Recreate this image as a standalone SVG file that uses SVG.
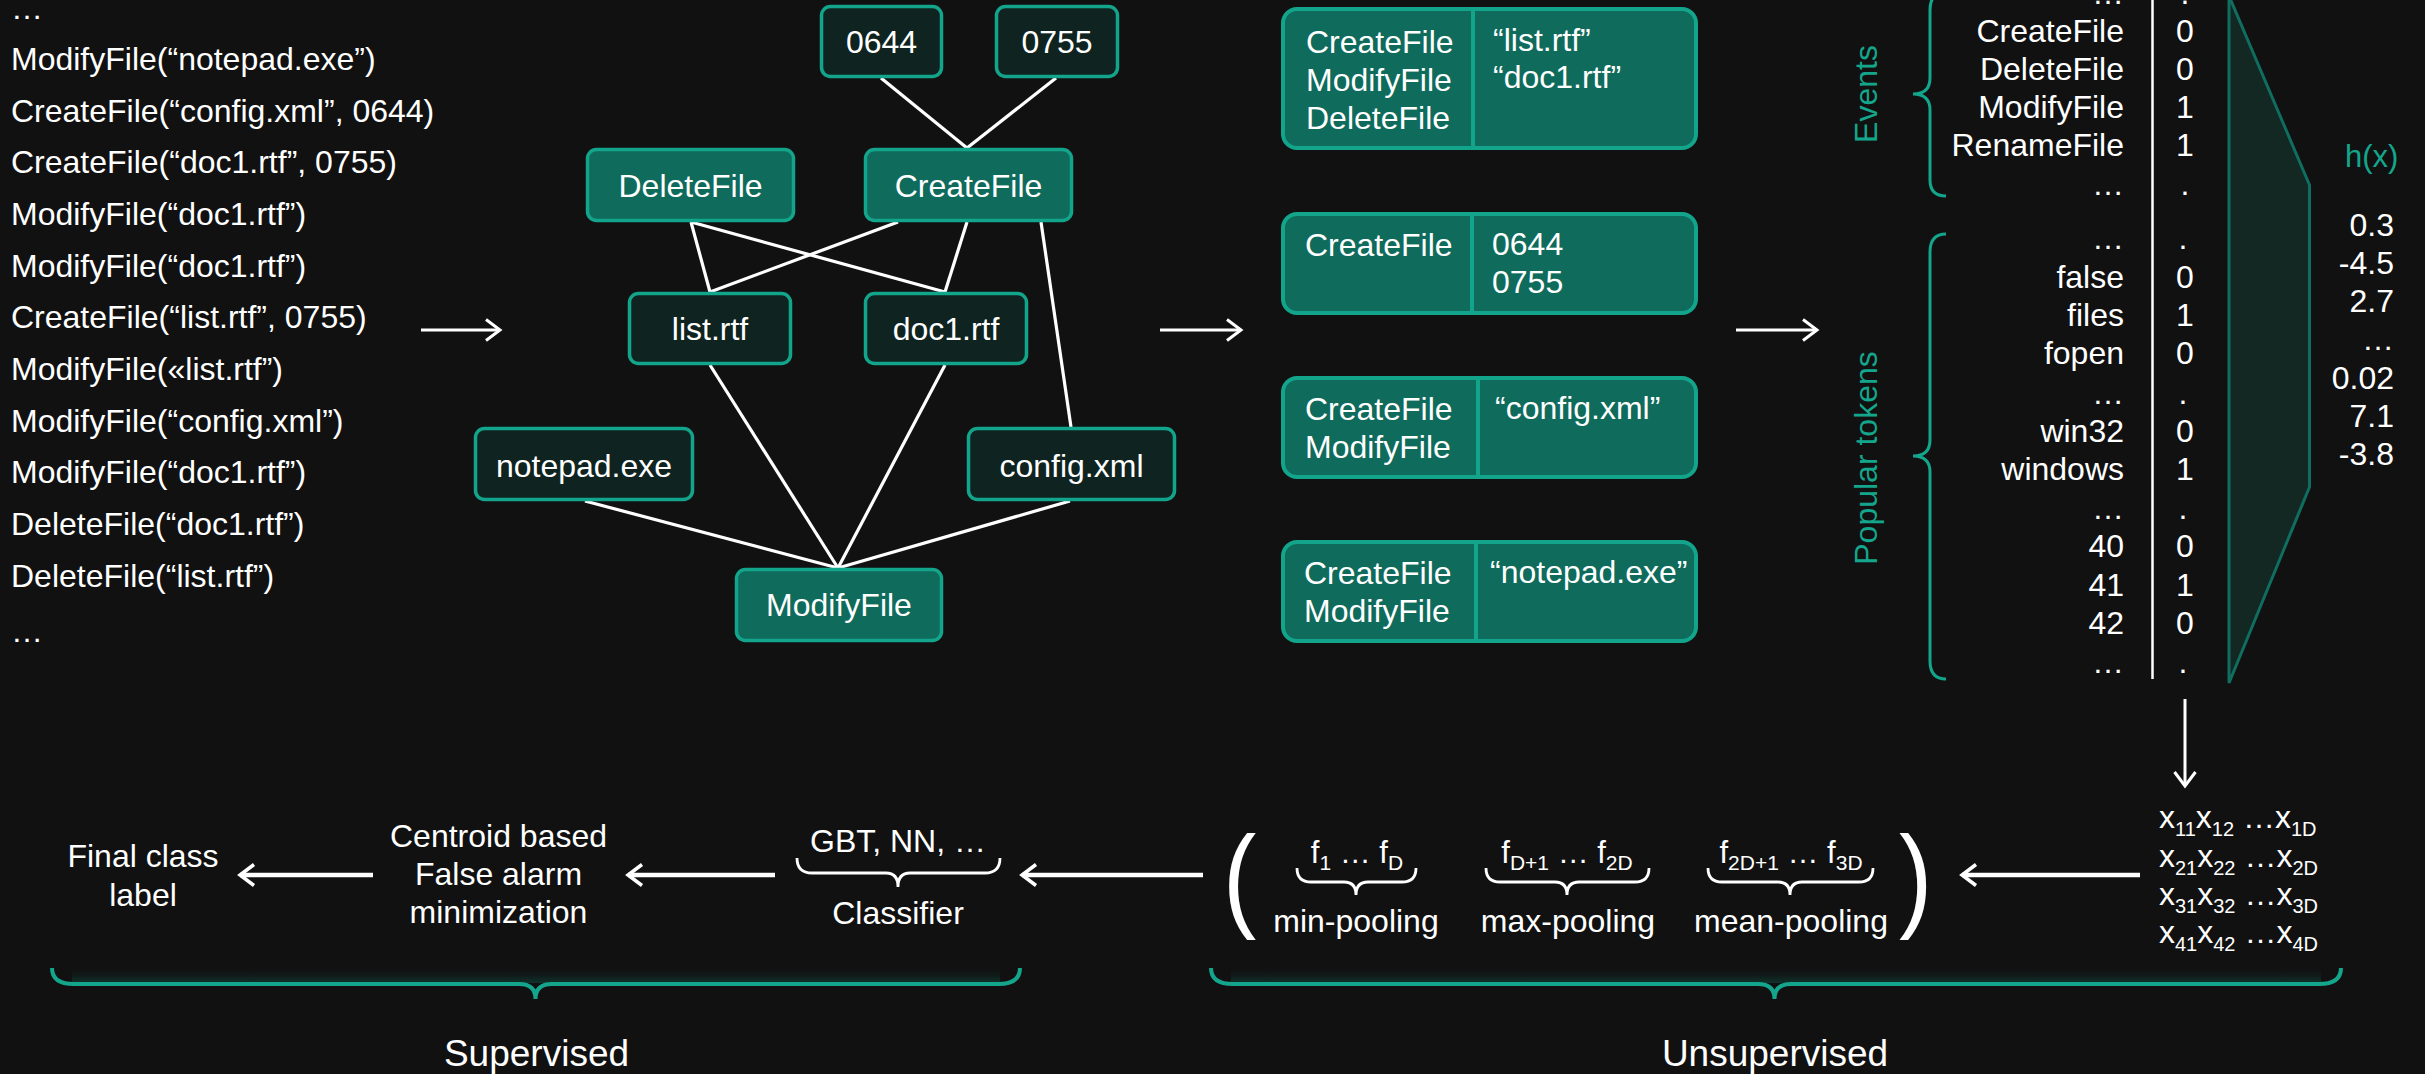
<svg xmlns="http://www.w3.org/2000/svg" width="2425" height="1074" viewBox="0 0 2425 1074">
  <style>
    text { font-family: "Liberation Sans", Arial, sans-serif; fill: #ffffff; }
    .t32 { font-size: 32px; }
    .mid { text-anchor: middle; }
    .end { text-anchor: end; }
    .teal { fill: #14a68c; }
    .node-dark { fill: #0f2420; stroke: #13a58b; stroke-width: 3.5; }
    .node-teal { fill: #0f6b5c; stroke: #13a58b; stroke-width: 3.5; }
    .box { fill: #0f6b5c; stroke: #13a58b; stroke-width: 4; }
    .divider { stroke: #13a58b; stroke-width: 4; }
    .edge { stroke: #ffffff; stroke-width: 3.2; fill: none; }
    .arrow { stroke: #ffffff; stroke-width: 3; fill: none; marker-end: url(#chev); }
    .arrow-thick { stroke: #ffffff; stroke-width: 4.5; fill: none; marker-end: url(#chevThick); }
    .brace-teal { stroke: #13a68c; stroke-width: 3; fill: none; }
    .brace-big { stroke: #13a68c; stroke-width: 4; fill: none; }
    .brace-white { stroke: #ffffff; stroke-width: 2.8; fill: none; }
  </style>
  <defs>
    <marker id="chev" viewBox="-18 -14 22 28" refX="0" refY="0" markerWidth="22" markerHeight="28" markerUnits="userSpaceOnUse" orient="auto">
      <path d="M-14,-10.5 L0,0 L-14,10.5" fill="none" stroke="#ffffff" stroke-width="3"/>
    </marker>
    <marker id="chevThick" viewBox="-18 -14 22 28" refX="0" refY="0" markerWidth="22" markerHeight="28" markerUnits="userSpaceOnUse" orient="auto">
      <path d="M-14,-10.5 L0,0 L-14,10.5" fill="none" stroke="#ffffff" stroke-width="3.5"/>
    </marker>
    <linearGradient id="glow" x1="0" y1="0" x2="0" y2="1">
      <stop offset="0" stop-color="#111111" stop-opacity="0"/>
      <stop offset="1" stop-color="#0f342d" stop-opacity="1"/>
    </linearGradient>
  </defs>

  <rect width="2425" height="1074" fill="#111111"/>

  <!-- event log -->
  <g id="event-log" class="t32">
    <text x="11" y="19">…</text>
    <text x="11" y="70">ModifyFile(“notepad.exe”)</text>
    <text x="11" y="122">CreateFile(“config.xml”, 0644)</text>
    <text x="11" y="173">CreateFile(“doc1.rtf”, 0755)</text>
    <text x="11" y="225">ModifyFile(“doc1.rtf”)</text>
    <text x="11" y="277">ModifyFile(“doc1.rtf”)</text>
    <text x="11" y="328">CreateFile(“list.rtf”, 0755)</text>
    <text x="11" y="380">ModifyFile(«list.rtf”)</text>
    <text x="11" y="432">ModifyFile(“config.xml”)</text>
    <text x="11" y="483">ModifyFile(“doc1.rtf”)</text>
    <text x="11" y="535">DeleteFile(“doc1.rtf”)</text>
    <text x="11" y="587">DeleteFile(“list.rtf”)</text>
    <text x="11" y="642">…</text>
  </g>

  <!-- connectors -->
  <g id="connectors">
    <line class="arrow" x1="421" y1="330" x2="500" y2="330"/>
    <line class="edge" x1="881" y1="78" x2="967" y2="148"/>
    <line class="edge" x1="1056" y1="78" x2="967" y2="148"/>
    <line class="edge" x1="691" y1="222" x2="710" y2="292"/>
    <line class="edge" x1="691" y1="222" x2="945" y2="292"/>
    <line class="edge" x1="898" y1="222" x2="710" y2="292"/>
    <line class="edge" x1="967" y1="222" x2="945" y2="292"/>
    <line class="edge" x1="1041" y1="222" x2="1071" y2="427"/>
    <line class="edge" x1="710" y1="365" x2="838" y2="568"/>
    <line class="edge" x1="945" y1="365" x2="838" y2="568"/>
    <line class="edge" x1="585" y1="501" x2="838" y2="568"/>
    <line class="edge" x1="1070" y1="501" x2="838" y2="568"/>
    <line class="arrow" x1="1160" y1="330" x2="1241" y2="330"/>
    <line class="arrow" x1="1736" y1="330" x2="1817" y2="330"/>
    <line class="arrow" x1="2185" y1="699" x2="2185" y2="786"/>
    <line class="arrow-thick" x1="2140" y1="875" x2="1962" y2="875"/>
    <line class="arrow-thick" x1="1203" y1="875" x2="1022" y2="875"/>
    <line class="arrow-thick" x1="775" y1="875" x2="628" y2="875"/>
    <line class="arrow-thick" x1="373" y1="875" x2="240" y2="875"/>
  </g>

  <!-- graph nodes -->
  <g id="node-0644">
    <rect class="node-dark" x="821.5" y="6.5" width="120" height="70" rx="9"/>
    <text class="t32 mid" x="881.5" y="53">0644</text>
  </g>
  <g id="node-0755">
    <rect class="node-dark" x="996.5" y="6.5" width="121" height="70" rx="9"/>
    <text class="t32 mid" x="1057" y="53">0755</text>
  </g>
  <g id="node-deletefile">
    <rect class="node-teal" x="587.5" y="149.5" width="206" height="71" rx="9"/>
    <text class="t32 mid" x="690.5" y="197">DeleteFile</text>
  </g>
  <g id="node-createfile">
    <rect class="node-teal" x="865.5" y="149.5" width="206" height="71" rx="9"/>
    <text class="t32 mid" x="968.5" y="197">CreateFile</text>
  </g>
  <g id="node-list-rtf">
    <rect class="node-dark" x="629.5" y="293.5" width="161" height="70" rx="9"/>
    <text class="t32 mid" x="710" y="340">list.rtf</text>
  </g>
  <g id="node-doc1-rtf">
    <rect class="node-dark" x="865.5" y="293.5" width="161" height="70" rx="9"/>
    <text class="t32 mid" x="946" y="340">doc1.rtf</text>
  </g>
  <g id="node-notepad-exe">
    <rect class="node-dark" x="475.5" y="428.5" width="217" height="71" rx="9"/>
    <text class="t32 mid" x="584" y="477">notepad.exe</text>
  </g>
  <g id="node-config-xml">
    <rect class="node-dark" x="968.5" y="428.5" width="206" height="71" rx="9"/>
    <text class="t32 mid" x="1071.5" y="477">config.xml</text>
  </g>
  <g id="node-modifyfile">
    <rect class="node-teal" x="736.5" y="569.5" width="205" height="71" rx="9"/>
    <text class="t32 mid" x="839" y="616">ModifyFile</text>
  </g>

  <!-- grouped event / argument boxes -->
  <g id="group-files">
    <rect class="box" x="1283" y="9" width="413" height="139" rx="14"/>
    <line class="divider" x1="1473" y1="9" x2="1473" y2="148"/>
    <text class="t32" x="1306" y="53">CreateFile</text>
    <text class="t32" x="1306" y="91">ModifyFile</text>
    <text class="t32" x="1306" y="129">DeleteFile</text>
    <text class="t32" x="1493" y="51">“list.rtf”</text>
    <text class="t32" x="1493" y="88">“doc1.rtf”</text>
  </g>
  <g id="group-modes">
    <rect class="box" x="1283" y="214" width="413" height="99" rx="14"/>
    <line class="divider" x1="1472" y1="214" x2="1472" y2="313"/>
    <text class="t32" x="1305" y="256">CreateFile</text>
    <text class="t32" x="1492" y="255">0644</text>
    <text class="t32" x="1492" y="293">0755</text>
  </g>
  <g id="group-config">
    <rect class="box" x="1283" y="378" width="413" height="99" rx="14"/>
    <line class="divider" x1="1478" y1="378" x2="1478" y2="477"/>
    <text class="t32" x="1305" y="420">CreateFile</text>
    <text class="t32" x="1305" y="458">ModifyFile</text>
    <text class="t32" x="1495" y="419">“config.xml”</text>
  </g>
  <g id="group-notepad">
    <rect class="box" x="1283" y="542" width="413" height="99" rx="14"/>
    <line class="divider" x1="1476" y1="542" x2="1476" y2="641"/>
    <text class="t32" x="1304" y="584">CreateFile</text>
    <text class="t32" x="1304" y="622">ModifyFile</text>
    <text class="t32" x="1490" y="583">“notepad.exe”</text>
  </g>

  <!-- feature vector -->
  <g id="feature-vector">
    <path class="brace-teal" d="M1946,-8 Q1930,-8 1930,10 L1930,78 Q1930,94 1913,94 Q1930,94 1930,110 L1930,180 Q1930,196 1946,196"/>
    <path class="brace-teal" d="M1946,234 Q1930,234 1930,252 L1930,440 Q1930,456 1913,456 Q1930,456 1930,472 L1930,661 Q1930,679 1946,679"/>
    <text class="t32 mid teal" transform="translate(1877,94) rotate(-90)">Events</text>
    <text class="t32 mid teal" transform="translate(1877,458) rotate(-90)">Popular tokens</text>
    <line x1="2152.5" y1="0" x2="2152.5" y2="679" stroke="#ffffff" stroke-width="2.5"/>
    <g class="t32">
      <text class="end" x="2124" y="4">…</text><text class="mid" x="2185" y="4">.</text>
      <text class="end" x="2124" y="42">CreateFile</text><text class="mid" x="2185" y="42">0</text>
      <text class="end" x="2124" y="80">DeleteFile</text><text class="mid" x="2185" y="80">0</text>
      <text class="end" x="2124" y="118">ModifyFile</text><text class="mid" x="2185" y="118">1</text>
      <text class="end" x="2124" y="156">RenameFile</text><text class="mid" x="2185" y="156">1</text>
      <text class="end" x="2124" y="195">…</text><text class="mid" x="2185" y="195">.</text>
      <text class="end" x="2124" y="249">…</text><text class="mid" x="2183" y="249">.</text>
      <text class="end" x="2124" y="288">false</text><text class="mid" x="2185" y="288">0</text>
      <text class="end" x="2124" y="326">files</text><text class="mid" x="2185" y="326">1</text>
      <text class="end" x="2124" y="364">fopen</text><text class="mid" x="2185" y="364">0</text>
      <text class="end" x="2124" y="404">…</text><text class="mid" x="2183" y="404">.</text>
      <text class="end" x="2124" y="442">win32</text><text class="mid" x="2185" y="442">0</text>
      <text class="end" x="2124" y="480">windows</text><text class="mid" x="2185" y="480">1</text>
      <text class="end" x="2124" y="519">…</text><text class="mid" x="2183" y="519">.</text>
      <text class="end" x="2124" y="557">40</text><text class="mid" x="2185" y="557">0</text>
      <text class="end" x="2124" y="596">41</text><text class="mid" x="2185" y="596">1</text>
      <text class="end" x="2124" y="634">42</text><text class="mid" x="2185" y="634">0</text>
      <text class="end" x="2124" y="673">…</text><text class="mid" x="2183" y="673">.</text>
    </g>
  </g>

  <!-- hashing projection -->
  <g id="hash-projection">
    <polygon points="2229,-4 2309.5,185 2309.5,487 2229,683" fill="#132723" stroke="#0f6e5f" stroke-width="3"/>
    <text class="teal" x="2345" y="167" font-size="31">h(x)</text>
    <g class="t32 end">
      <text x="2394" y="236">0.3</text>
      <text x="2394" y="274">-4.5</text>
      <text x="2394" y="312">2.7</text>
      <text x="2394" y="350">…</text>
      <text x="2394" y="389">0.02</text>
      <text x="2394" y="427">7.1</text>
      <text x="2394" y="465">-3.8</text>
    </g>
  </g>

  <!-- matrix of hashed vectors -->
  <g id="hashed-matrix" font-size="32">
    <text x="2159" y="828">x<tspan font-size="20" dy="8">11</tspan><tspan dy="-8">x</tspan><tspan font-size="20" dy="8">12</tspan><tspan dy="-8"> …x</tspan><tspan font-size="20" dy="8">1D</tspan></text>
    <text x="2159" y="867">x<tspan font-size="20" dy="8">21</tspan><tspan dy="-8">x</tspan><tspan font-size="20" dy="8">22</tspan><tspan dy="-8"> …x</tspan><tspan font-size="20" dy="8">2D</tspan></text>
    <text x="2159" y="905">x<tspan font-size="20" dy="8">31</tspan><tspan dy="-8">x</tspan><tspan font-size="20" dy="8">32</tspan><tspan dy="-8"> …x</tspan><tspan font-size="20" dy="8">3D</tspan></text>
    <text x="2159" y="943">x<tspan font-size="20" dy="8">41</tspan><tspan dy="-8">x</tspan><tspan font-size="20" dy="8">42</tspan><tspan dy="-8"> …x</tspan><tspan font-size="20" dy="8">4D</tspan></text>
  </g>

  <!-- pooled feature vector -->
  <g id="pooling">
    <text transform="translate(1223,916) scale(1,1.15)" font-size="100">(</text>
    <text transform="translate(1899,916) scale(1,1.15)" font-size="100">)</text>
    <text class="mid" x="1357" y="863" font-size="31">f<tspan font-size="21" dy="7">1</tspan><tspan dy="-7"> … f</tspan><tspan font-size="21" dy="7">D</tspan></text>
    <text class="mid" x="1567" y="863" font-size="31">f<tspan font-size="21" dy="7">D+1</tspan><tspan dy="-7"> … f</tspan><tspan font-size="21" dy="7">2D</tspan></text>
    <text class="mid" x="1791" y="863" font-size="31">f<tspan font-size="21" dy="7">2D+1</tspan><tspan dy="-7"> … f</tspan><tspan font-size="21" dy="7">3D</tspan></text>
    <path class="brace-white" d="M1297,868 Q1297,882 1311,882 L1344,882 Q1356,882 1356,895 Q1356,882 1368,882 L1402,882 Q1416,882 1416,868"/>
    <path class="brace-white" d="M1486,868 Q1486,882 1500,882 L1555,882 Q1567,882 1567,895 Q1567,882 1579,882 L1635,882 Q1649,882 1649,868"/>
    <path class="brace-white" d="M1708,868 Q1708,882 1722,882 L1778,882 Q1790,882 1790,895 Q1790,882 1802,882 L1859,882 Q1873,882 1873,868"/>
    <text class="t32 mid" x="1356" y="932">min-pooling</text>
    <text class="t32 mid" x="1568" y="932">max-pooling</text>
    <text class="t32 mid" x="1791" y="932">mean-pooling</text>
  </g>

  <!-- classifier -->
  <g id="classifier">
    <text class="t32 mid" x="898" y="852">GBT, NN, …</text>
    <path class="brace-white" d="M797,858 Q797,873 812,873 L886,873 Q898,873 898,887 Q898,873 910,873 L985,873 Q1000,873 1000,858"/>
    <text class="t32 mid" x="898" y="924">Classifier</text>
  </g>

  <!-- false alarm minimization -->
  <g id="centroid-step" class="t32 mid">
    <text x="498.5" y="847">Centroid based</text>
    <text x="498.5" y="885">False alarm</text>
    <text x="498.5" y="923">minimization</text>
  </g>

  <!-- final label -->
  <g id="final-label" class="t32 mid">
    <text x="143" y="867">Final class</text>
    <text x="143" y="906">label</text>
  </g>

  <!-- stage brackets -->
  <g id="stage-supervised">
    <rect x="72" y="966" width="928" height="17" fill="url(#glow)"/>
    <path class="brace-big" d="M52,968 Q52,984 74,984 L519,984 Q535.5,984 535.5,999 Q535.5,984 552,984 L998,984 Q1020,984 1020,968"/>
    <text class="mid" x="536.5" y="1066" font-size="37">Supervised</text>
  </g>
  <g id="stage-unsupervised">
    <rect x="1231" y="966" width="1090" height="17" fill="url(#glow)"/>
    <path class="brace-big" d="M1211,968 Q1211,984 1233,984 L1758,984 Q1774.5,984 1774.5,999 Q1774.5,984 1791,984 L2319,984 Q2341,984 2341,968"/>
    <text class="mid" x="1775" y="1066" font-size="37">Unsupervised</text>
  </g>
</svg>
